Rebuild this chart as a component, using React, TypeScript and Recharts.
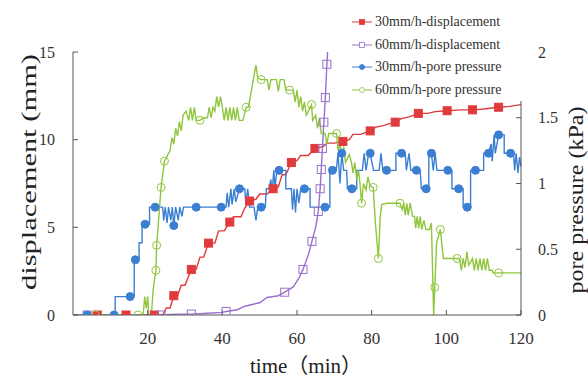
import { LineChart, Line, XAxis, YAxis, Legend, Label } from 'recharts'

// [time (min), value, marker?]
type Pt = [number, number, number?]

const timeTicks = [20, 40, 60, 80, 100, 120]
const dispTicks = [0, 5, 10, 15]
const poreTicks = [0, 0.5, 1, 1.5, 2]

const disp30: Pt[] = [
  [0, 0], [6.5, 0, 1], [14.2, 0, 1], [21.8, 0, 1], [24, 0], [25, 0.4], [26, 0.4], [27, 1.1, 1],
  [28, 1.1], [29, 1.7], [30, 1.7], [31.7, 2.6, 1], [33, 2.6], [34, 3.3], [35, 3.3], [36.3, 4.1, 1],
  [38, 4.1], [39, 4.8], [40.5, 4.8], [42, 5.3, 1], [43, 5.6], [45, 5.6], [46, 6.1], [47.3, 6.5, 1],
  [49, 6.6], [50, 6.9], [52, 6.9], [53.6, 7.2, 1], [55, 7.3], [56, 8.0], [57, 8.0], [58.5, 8.7, 1],
  [60, 8.8], [61, 9.1], [63, 9.1], [64.8, 9.5, 1], [67, 9.6], [68, 9.8], [70, 9.8], [72.3, 9.9, 1],
  [74, 10.0], [75, 10.3], [77, 10.3], [79.6, 10.5, 1], [81, 10.7], [83, 10.8], [86.3, 11.0, 1],
  [88, 11.2], [90, 11.3], [92.5, 11.5, 1], [95, 11.5], [97, 11.6], [100.2, 11.65, 1], [104, 11.7],
  [107, 11.7, 1], [110, 11.75], [114, 11.85, 1], [117, 11.9], [120, 12.0],
]

const disp60: Pt[] = [
  [0, 0], [3.8, 0, 1], [12, 0], [23.6, 0, 1], [28, 0.05], [31.7, 0.05, 1], [36, 0.1], [40, 0.15],
  [41, 0.2, 1], [44, 0.3], [46, 0.5], [48, 0.6], [50, 0.7], [52, 1.0], [55, 1.1], [56.7, 1.3, 1],
  [59, 1.6], [60.5, 2.1], [61.6, 2.6, 1], [63, 3.4], [64, 4.2, 1], [65, 5.0], [65.7, 5.9, 1],
  [66.2, 7.2, 1], [66.5, 8.3, 1], [66.8, 9.5, 1], [67.2, 11.0, 1], [67.6, 12.4, 1], [68, 14.3, 1],
  [68.2, 15],
]

const pore30: Pt[] = [
  [0, 0], [3.8, 0, 1], [11, 0, 1], [11.3, 0], [11.3, 0.14], [15.3, 0.14, 1], [16.4, 0.14],
  [16.4, 0.42], [16.7, 0.42, 1], [17.7, 0.42], [17.7, 0.55], [18.5, 0.55], [18.5, 0.69],
  [19.3, 0.69, 1], [20.5, 0.69], [20.5, 0.82], [22, 0.82, 1], [24, 0.82], [24.3, 0.72], [24.7, 0.82],
  [25.2, 0.7], [25.6, 0.82], [26.2, 0.72], [26.6, 0.82], [27, 0.68, 1], [27.5, 0.82], [28.2, 0.72],
  [28.6, 0.82], [29.2, 0.75], [29.6, 0.82], [33, 0.82, 1], [39.7, 0.82, 1], [41, 0.82], [41.3, 0.93],
  [41.7, 0.82], [42.3, 0.96], [42.6, 0.84], [43.2, 0.96], [43.6, 0.86], [44.6, 0.96, 1], [46, 0.96],
  [46.3, 0.85], [46.8, 0.96], [47.3, 0.82], [48.5, 0.82], [49, 0.72], [49.5, 0.82], [50.4, 0.82, 1],
  [51.5, 0.82], [51.8, 0.96], [52.5, 0.96], [53, 1.03], [53.3, 0.93], [53.8, 1.1], [54.1, 0.96],
  [54.6, 1.1], [55.2, 1.1, 1], [57, 1.1], [57, 0.96], [58.5, 0.96], [58.8, 0.8], [59.2, 0.96],
  [59.6, 0.78], [60, 0.96], [60.5, 0.85], [61, 0.96], [62, 0.96, 1], [63.5, 0.96], [63.5, 0.82],
  [67.5, 0.82, 1], [68.8, 0.82], [68.8, 1.1], [69.5, 1.1, 1], [70.5, 1.1], [71, 1.23], [71.5, 1.0],
  [72, 1.23, 1], [72.5, 1.1], [73.3, 1.1], [73.5, 0.96], [74.7, 0.96, 1], [76, 0.96], [76, 1.1],
  [77.5, 1.1], [78, 1.23], [78.5, 1.1], [79.2, 1.23], [79.6, 1.23, 1], [80.5, 1.1], [82, 1.1],
  [82.5, 1.23], [83, 1.1], [84, 1.1, 1], [86.5, 1.1], [86.5, 1.23], [88, 1.23, 1], [89, 1.23],
  [89.3, 1.1], [90, 1.23], [90.5, 1.1], [92, 1.1, 1], [93, 1.1], [93.3, 0.96], [94.6, 0.96, 1],
  [95.3, 0.96], [95.3, 1.23], [96, 1.23, 1], [96.5, 1.1], [97, 1.23], [97.5, 1.1], [100.4, 1.1, 1],
  [101.5, 1.1], [101.5, 0.96], [103.3, 0.96, 1], [104.5, 0.96], [104.5, 0.82], [105.6, 0.82, 1],
  [106.5, 0.82], [106.5, 1.1], [107.8, 1.1, 1], [110, 1.1], [110, 1.23], [111.3, 1.23, 1], [112, 1.3],
  [112.3, 1.17], [112.8, 1.37], [113.1, 1.23], [114, 1.37, 1], [115.5, 1.37], [115.5, 1.23],
  [117.2, 1.23, 1], [118, 1.23], [118.3, 1.1], [118.7, 1.23], [119.2, 1.08], [119.6, 1.2], [120, 1.13],
]

const pore60: Pt[] = [
  [0, 0], [6, 0, 1], [17.4, 0, 1], [18.8, 0], [19.2, 0.14], [19.6, 0.05], [20, 0.14], [20.3, 0],
  [21, 0], [21.5, 0.2], [22.2, 0.34, 1], [22.4, 0.53, 1], [23, 0.75], [23.6, 0.97, 1],
  [24.5, 1.17, 1], [26, 1.25], [26.5, 1.35], [27, 1.3], [27.5, 1.42], [28, 1.36], [28.5, 1.47],
  [29, 1.4], [29.5, 1.52], [30.3, 1.55], [31, 1.48], [31.5, 1.58], [32, 1.48], [32.5, 1.58],
  [33, 1.48], [34, 1.48, 1], [35, 1.5], [36, 1.5], [36.5, 1.58], [37, 1.5], [37.5, 1.58], [38, 1.55],
  [38.5, 1.66], [39, 1.58], [39.5, 1.66], [40, 1.58], [40.5, 1.48], [41, 1.58], [41.5, 1.48],
  [42, 1.58], [42.5, 1.48], [43, 1.58], [43.5, 1.48], [44, 1.58], [44.5, 1.48], [45.5, 1.48],
  [46.4, 1.58, 1], [47, 1.58], [47.8, 1.71], [48.3, 1.79], [49, 1.9], [49.5, 1.8], [50.4, 1.79, 1],
  [52, 1.79], [52.5, 1.71], [53, 1.79], [54.5, 1.79], [55, 1.7], [55.5, 1.79], [56.5, 1.79],
  [57, 1.71], [58, 1.71, 1], [59, 1.71], [59.5, 1.62], [60, 1.71], [60.5, 1.58], [61, 1.66],
  [61.5, 1.55], [62, 1.62], [62.5, 1.52], [63.9, 1.6, 1], [64.2, 1.48], [65, 1.52], [65.5, 1.42],
  [66, 1.5], [66.5, 1.38], [67.5, 1.38], [68, 1.3], [68.5, 1.38], [70.6, 1.38, 1], [71, 1.25],
  [71.5, 1.3], [72, 1.2], [72.5, 1.28], [73, 1.16], [74, 1.22], [74.6, 1.16], [75, 1.08],
  [75.5, 1.16], [76, 1.03], [76.5, 1.1], [77, 0.96], [77.3, 0.85, 1], [77.8, 1.0], [78.5, 0.95],
  [79, 1.05], [79.6, 0.98], [80.4, 0.97, 1], [81, 0.7], [81.8, 0.43, 1], [82.3, 0.75], [82.7, 0.84],
  [84, 0.85], [86, 0.85], [87.6, 0.85, 1], [88.2, 0.8], [88.6, 0.85], [89, 0.76], [89.4, 0.85],
  [89.8, 0.76], [90.3, 0.85], [91, 0.75], [91.5, 0.75], [91.8, 0.66], [92.2, 0.75], [92.6, 0.66],
  [93, 0.75], [93.4, 0.65], [94, 0.72], [94.5, 0.65], [95.5, 0.65], [96, 0.7], [96.6, 0],
  [96.9, 0.21, 1], [97.4, 0.55], [98.4, 0.65, 1], [99.2, 0.43], [100, 0.43], [102.9, 0.43, 1],
  [103.5, 0.43], [104, 0.34], [104.5, 0.43], [105, 0.36], [105.5, 0.48], [106, 0.38], [107, 0.43],
  [107.5, 0.34], [108, 0.43], [108.5, 0.34], [109, 0.43], [109.5, 0.34], [110, 0.43], [110.5, 0.34],
  [111, 0.43], [111.5, 0.34], [112.3, 0.34], [112.5, 0.32], [114, 0.32, 1], [120, 0.32],
]

const SERIF = '"Liberation Serif", "Times New Roman", "Noto Sans CJK SC", serif'
const AXIS = '#555'

const SERIES = [
  { name: '30mm/h-displacement', pts: disp30, axis: 'disp', color: '#e03a3c', shape: 'sq', filled: true },
  { name: '60mm/h-displacement', pts: disp60, axis: 'disp', color: '#9a70cc', shape: 'sq', filled: false },
  { name: '30mm/h-pore pressure', pts: pore30, axis: 'pore', color: '#3b7fd2', shape: 'ci', filled: true },
  { name: '60mm/h-pore pressure', pts: pore60, axis: 'pore', color: '#8fc63d', shape: 'ci', filled: false },
]

function marker(shape: string, color: string, filled: boolean, cx: number, cy: number, key?: any) {
  if (shape === 'sq') {
    return <rect key={key} x={cx - 4} y={cy - 4} width={8} height={8} fill={filled ? color : 'none'} stroke={color} strokeWidth={1} />
  }
  return <circle key={key} cx={cx} cy={cy} r={4} fill={filled ? color : 'none'} stroke={color} strokeWidth={1} />
}

function makeDot(shape: string, color: string, filled: boolean) {
  return (p: any) => {
    if (!p.payload || !p.payload.m || p.cx == null) return <g key={p.key} />
    return marker(shape, color, filled, p.cx, p.cy, p.key)
  }
}

function LegendBox() {
  return (
    <div style={{ fontFamily: SERIF, fontSize: 14, color: '#333', background: '#fff' }}>
      {SERIES.map((s) => (
        <div key={s.name} style={{ display: 'flex', alignItems: 'center', height: 22.5 }}>
          <svg width={20} height={12} style={{ marginRight: 3 }}>
            <line x1={0} x2={20} y1={6} y2={6} stroke={s.color} strokeWidth={1} />
            {s.shape === 'sq'
              ? <rect x={7.5} y={3.5} width={5} height={5} fill={s.filled ? s.color : '#fff'} stroke={s.color} strokeWidth={0.8} />
              : <circle cx={10} cy={6} r={2.5} fill={s.filled ? s.color : '#fff'} stroke={s.color} strokeWidth={0.8} />}
          </svg>
          <span>{s.name}</span>
        </div>
      ))}
    </div>
  )
}

export default function App() {
  const tickStyle = { fontFamily: SERIF, fontSize: 16, fill: '#333' }
  return (
    <div style={{ position: 'absolute', left: 0, top: 0, width: 588, height: 378, background: '#fff' }}>
      <LineChart width={588} height={378} margin={{ top: 52, right: 0, bottom: 0, left: 0 }}>
        <XAxis
          type="number"
          dataKey="t"
          domain={[0, 120]}
          ticks={timeTicks}
          height={63}
          tickSize={-5}
          tickMargin={22}
          tick={{ ...tickStyle, fontSize: 17 }}
          stroke={AXIS}
          allowDuplicatedCategory={false}
        >
          <Label
            content={() => (
              <text x={306} y={373} textAnchor="middle" fontFamily={SERIF} fontSize={21} fill="#222">
                time（min）
              </text>
            )}
          />
        </XAxis>
        <YAxis
          yAxisId="disp"
          orientation="left"
          domain={[0, 15]}
          ticks={dispTicks}
          width={73}
          tickSize={-5}
          tickMargin={23}
          tick={tickStyle}
          stroke={AXIS}
          allowDataOverflow
        >
          <Label
            content={() => (
              <text
                x={0}
                y={0}
                transform="translate(28 172) rotate(-90)"
                textAnchor="middle"
                dominantBaseline="central"
                fontFamily={SERIF}
                fontSize={22}
                fill="#222"
                textLength={236}
                lengthAdjust="spacingAndGlyphs"
              >
                displacement (mm)
              </text>
            )}
          />
        </YAxis>
        <YAxis
          yAxisId="pore"
          orientation="right"
          domain={[0, 2]}
          ticks={poreTicks}
          width={67}
          tickSize={-5}
          tickMargin={22}
          tick={tickStyle}
          stroke={AXIS}
          allowDataOverflow
        >
          <Label
            content={() => (
              <text
                x={0}
                y={0}
                transform="translate(576 200) rotate(-90)"
                textAnchor="middle"
                dominantBaseline="central"
                fontFamily={SERIF}
                fontSize={20}
                fill="#222"
                textLength={187}
                lengthAdjust="spacingAndGlyphs"
              >
                pore pressure (kPa)
              </text>
            )}
          />
        </YAxis>
        {SERIES.map((s) => (
          <Line
            key={s.name}
            name={s.name}
            yAxisId={s.axis}
            data={s.pts.map(([t, v, m]) => ({ t, v, m: m ? 1 : 0 }))}
            dataKey="v"
            type="linear"
            stroke={s.color}
            strokeWidth={1.4}
            dot={makeDot(s.shape, s.color, s.filled)}
            activeDot={false}
            isAnimationActive={false}
          />
        ))}
        <Legend
          layout="vertical"
          align="center"
          verticalAlign="middle"
          content={() => <LegendBox />}
          wrapperStyle={{ left: 352, top: 11, width: 170 }}
        />
      </LineChart>
    </div>
  )
}
